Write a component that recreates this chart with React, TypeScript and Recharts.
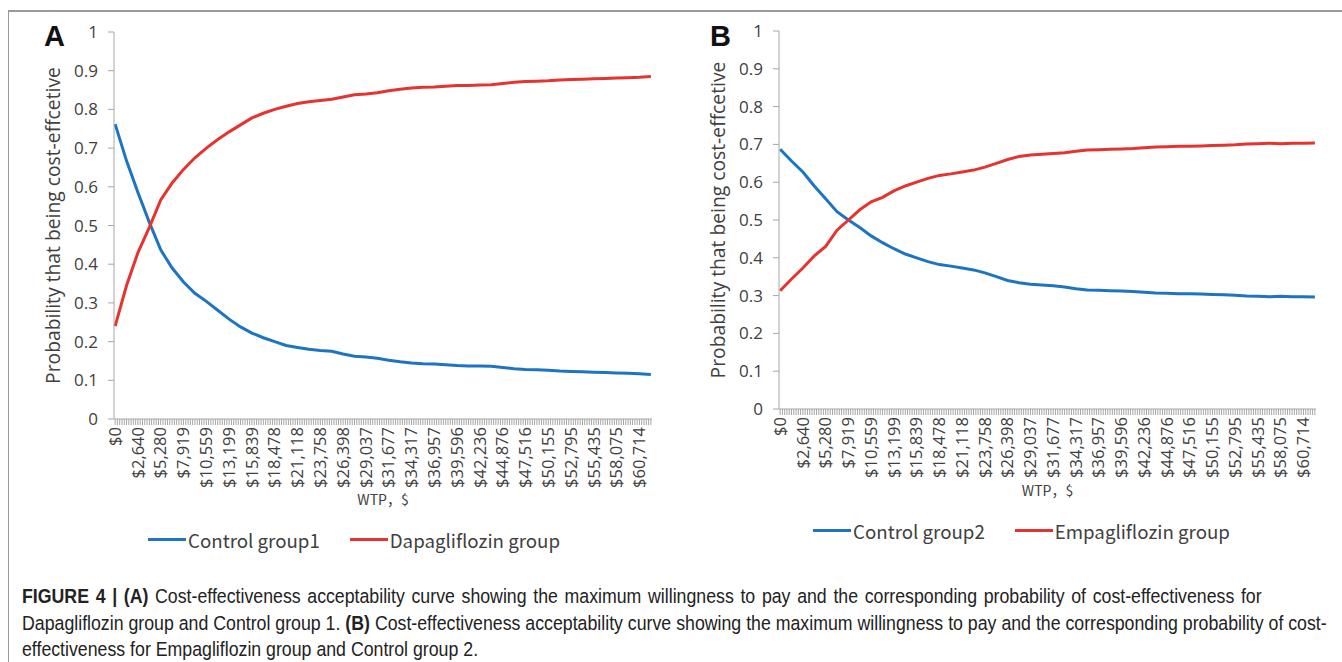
import React from 'react'
import { LineChart, Line, XAxis, YAxis, Legend, Label } from 'recharts'

// x axis category labels (one label every 10 WTP steps)
const wtpLabels = [
  '$0', '$2,640', '$5,280', '$7,919', '$10,559', '$13,199', '$15,839', '$18,478',
  '$21,118', '$23,758', '$26,398', '$29,037', '$31,677', '$34,317', '$36,957', '$39,596',
  '$42,236', '$44,876', '$47,516', '$50,155', '$52,795', '$55,435', '$58,075', '$60,714',
]

// category index of each read point
const steps = [
  0, 5, 10, 15, 20, 25, 30, 35, 40, 45, 50, 55, 60, 65, 70, 75, 80, 85, 90, 95,
  100, 105, 110, 115, 120, 125, 130, 135, 140, 145, 150, 155, 160, 165, 170, 175,
  180, 185, 190, 195, 200, 205, 210, 215, 220, 225, 230, 235,
]

// panel A
const controlGroup1 = [
  0.762, 0.667, 0.585, 0.508, 0.437, 0.39, 0.354, 0.325, 0.304, 0.281, 0.258, 0.238,
  0.222, 0.21, 0.2, 0.19, 0.185, 0.18, 0.177, 0.175, 0.168, 0.162, 0.16, 0.157,
  0.152, 0.148, 0.145, 0.143, 0.142, 0.14, 0.138, 0.137, 0.137, 0.136, 0.133, 0.13,
  0.128, 0.127, 0.126, 0.124, 0.123, 0.122, 0.121, 0.12, 0.119, 0.118, 0.117, 0.115,
]
const dapagliflozin = [
  0.24, 0.345, 0.43, 0.495, 0.566, 0.61, 0.645, 0.675, 0.7, 0.722, 0.742, 0.76,
  0.778, 0.79, 0.8, 0.808, 0.815, 0.82, 0.823, 0.826, 0.832, 0.838, 0.84, 0.843,
  0.848, 0.852, 0.855, 0.857, 0.858, 0.86, 0.862, 0.862, 0.863, 0.864, 0.867, 0.87,
  0.872, 0.873, 0.874, 0.876, 0.877, 0.878, 0.879, 0.88, 0.881, 0.882, 0.883, 0.885,
]

// panel B
const controlGroup2 = [
  0.687, 0.656, 0.627, 0.59, 0.556, 0.522, 0.5, 0.48, 0.458, 0.44, 0.424, 0.41,
  0.4, 0.39, 0.382, 0.378, 0.373, 0.368, 0.36, 0.35, 0.34, 0.334, 0.33, 0.328,
  0.326, 0.323, 0.318, 0.315, 0.314, 0.313, 0.312, 0.311, 0.309, 0.307, 0.306, 0.305,
  0.305, 0.304, 0.303, 0.302, 0.301, 0.299, 0.298, 0.297, 0.298, 0.297, 0.297, 0.296,
]
const empagliflozin = [
  0.313, 0.344, 0.373, 0.405, 0.43, 0.473, 0.5, 0.527, 0.548, 0.56, 0.577, 0.59,
  0.6, 0.61, 0.618, 0.622, 0.627, 0.632, 0.64, 0.65, 0.66, 0.668, 0.672, 0.674,
  0.676, 0.678, 0.682, 0.685, 0.686, 0.687, 0.688, 0.689, 0.691, 0.693, 0.694, 0.695,
  0.695, 0.696, 0.697, 0.698, 0.699, 0.701, 0.702, 0.703, 0.702, 0.703, 0.703, 0.704,
]

const yTicks = [0, 0.1, 0.2, 0.3, 0.4, 0.5, 0.6, 0.7, 0.8, 0.9, 1]
const categoryCount = 236
const catTicks = Array.from({ length: categoryCount }, (_, i) => i)

const BLUE = '#1c74c2'
const RED = '#e5332f'
const AXIS = '#a6a6a6'
const TXT = '#404040'
const NUM_FONT = '"Open Sans", sans-serif'
const CJK_FONT = '"Noto Sans CJK SC", sans-serif'

const XTick = (props: any) => {
  const { x, y, payload } = props
  const k = payload.value
  if (k % 10 !== 0) return null
  return (
    <text
      x={x}
      y={y}
      transform={`rotate(-90, ${x}, ${y})`}
      textAnchor="end"
      dy="0.35em"
      fontSize={16.5}
      fontFamily={NUM_FONT}
      fill={TXT}
    >
      {wtpLabels[k / 10]}
    </text>
  )
}

type PanelProps = {
  letter: string
  left: number
  margin: { top: number; right: number; bottom: number; left: number }
  blue: number[]
  red: number[]
  blueName: string
  redName: string
  legendTop: number
  legendLeft: number
  wtpTop: number
}

function Panel({ letter, left, margin, blue, red, blueName, redName, legendTop, legendLeft, wtpTop }: PanelProps) {
  const data = steps.map((k, i) => ({ k, blue: blue[i], red: red[i] }))
  const plotCenter = margin.left + 60 + (670 - margin.left - 60 - margin.right) / 2
  return (
    <div style={{ position: 'absolute', left, top: 0, width: 670, height: 560 }}>
      <LineChart width={670} height={560} data={data} margin={margin}>
        <XAxis
          dataKey="k"
          type="number"
          domain={[-0.5, categoryCount - 0.5]}
          ticks={catTicks}
          interval={0}
          height={70}
          stroke={AXIS}
          tickSize={6}
          tickMargin={2}
          tick={<XTick />}
        />
        <YAxis
          domain={[0, 1]}
          ticks={yTicks}
          width={60}
          stroke={AXIS}
          tickSize={6}
          tickMargin={10}
          tick={{ fontSize: 17, fontFamily: NUM_FONT, fill: TXT }}
        >
          <Label
            content={(p: any) => {
              const vb = p.viewBox
              const cx = vb.x - 1
              const cy = vb.y + vb.height / 2
              return (
                <text
                  x={cx}
                  y={cy}
                  transform={`rotate(-90, ${cx}, ${cy})`}
                  textAnchor="middle"
                  dy="0.35em"
                  fontSize={19.3}
                  fontFamily={NUM_FONT}
                  fill={TXT}
                >
                  Probability that being cost-effcetive
                </text>
              )
            }}
          />
        </YAxis>
        <Legend
          layout="horizontal"
          verticalAlign="middle"
          align="center"
          wrapperStyle={{ left: 0, top: legendTop, width: 670, height: 30 }}
          content={() => (
            <div style={{ display: 'flex', alignItems: 'center', paddingLeft: legendLeft, fontFamily: CJK_FONT, fontSize: 18.7, color: TXT, whiteSpace: 'nowrap' }}>
              <span style={{ display: 'inline-block', width: 38, height: 3, background: BLUE }} />
              <span style={{ marginLeft: 2 }}>{blueName}</span>
              <span style={{ display: 'inline-block', width: 38, height: 3, background: RED, marginLeft: 30 }} />
              <span style={{ marginLeft: 2 }}>{redName}</span>
            </div>
          )}
        />
        <Line dataKey="blue" name={blueName} stroke={BLUE} strokeWidth={3} dot={false} isAnimationActive={false} />
        <Line dataKey="red" name={redName} stroke={RED} strokeWidth={3} dot={false} isAnimationActive={false} />
      </LineChart>
      <div style={{ position: 'absolute', left: 44, top: 20, fontFamily: '"Liberation Sans", Arial, sans-serif', fontWeight: 'bold', fontSize: 29, lineHeight: '33px', color: '#111' }}>
        {letter}
      </div>
      <div style={{ position: 'absolute', left: plotCenter - 60, width: 120, textAlign: 'center', top: wtpTop, fontFamily: CJK_FONT, fontSize: 14, color: TXT }}>
        WTP，$
      </div>
    </div>
  )
}

export default function App() {
  return (
    <div style={{ position: 'absolute', left: 0, top: 0, width: 1342, height: 662, background: '#fff', overflow: 'hidden' }}>
      <div style={{ position: 'absolute', left: 8, top: 10, width: 1334, height: 660, borderTop: '2px solid #9a9a9a', borderLeft: '1px solid #9a9a9a' }} />
      <Panel
        letter="A"
        left={0}
        margin={{ top: 32, right: 18, bottom: 71, left: 54 }}
        blue={controlGroup1}
        red={dapagliflozin}
        blueName="Control group1"
        redName="Dapagliflozin group"
        legendTop={526}
        legendLeft={148}
        wtpTop={489}
      />
      <Panel
        letter="B"
        left={666}
        margin={{ top: 31, right: 20, bottom: 81, left: 53 }}
        blue={controlGroup2}
        red={empagliflozin}
        blueName="Control group2"
        redName="Empagliflozin group"
        legendTop={517}
        legendLeft={147}
        wtpTop={480}
      />
      <div style={{ position: 'absolute', left: 22, top: 583, transform: 'scaleX(0.865)', transformOrigin: 'left top', fontFamily: '"Liberation Sans", Arial, sans-serif', fontSize: 20.5, lineHeight: '26.5px', color: '#222', whiteSpace: 'nowrap' }}>
        <span style={{ wordSpacing: 2 }}>
          <b>FIGURE 4 | (A)</b> Cost-effectiveness acceptability curve showing the maximum willingness to pay and the corresponding probability of cost-effectiveness for
        </span>
        <br />
        Dapagliflozin group and Control group 1. <b>(B)</b> Cost-effectiveness acceptability curve showing the maximum willingness to pay and the corresponding probability of cost-
        <br />
        effectiveness for Empagliflozin group and Control group 2.
      </div>
    </div>
  )
}
